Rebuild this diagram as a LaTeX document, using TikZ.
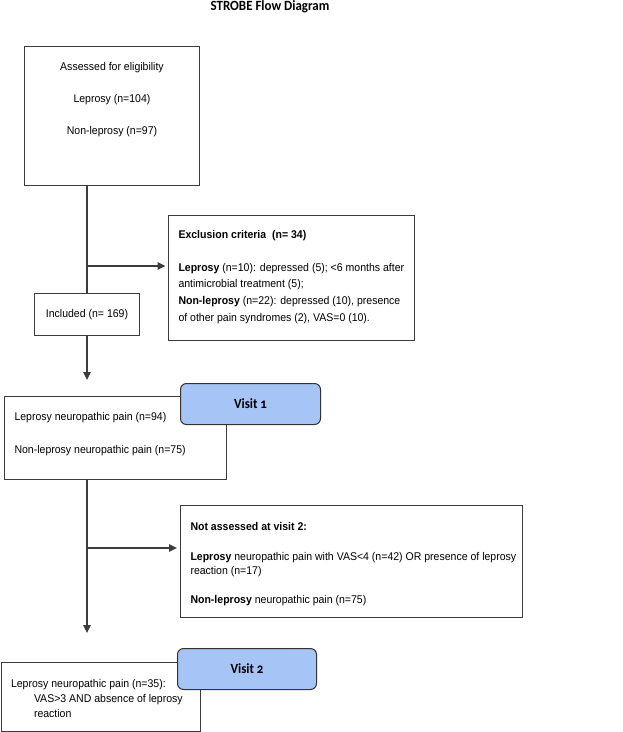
\documentclass[tikz,border=0pt]{standalone}
\usepackage{fontspec}
\setmainfont[FakeStretch=0.94]{Liberation Sans}
\newfontfamily\titlefont[FakeStretch=0.92]{Carlito}
\newfontfamily\tagfont[FakeStretch=0.92,Numbers=OldStyle]{Carlito}
\usetikzlibrary{arrows.meta}
\definecolor{tagblue}{RGB}{166,196,245}
\definecolor{linegray}{RGB}{60,60,60}
\tikzset{
  box/.style = {draw=linegray, line width=1pt, inner xsep=10pt,
                inner ysep=0pt, anchor=north west},
  tag/.style = {draw=black!80, line width=1pt, fill=tagblue,
                rounded corners=6pt, minimum width=#1, minimum height=41pt,
                anchor=north west,
                font=\tagfont\bfseries\fontsize{14}{16}\selectfont},
  tag/.default = 140pt,
  flow/.style = {color=linegray, line width=1.3pt},
  arr/.style = {flow, -{Triangle[length=8pt,width=7.5pt]}}
}
% width, height, top gap, line skip, text
\newcommand{\boxbody}[5]{%
  \begin{minipage}[c][#2][t]{#1}\fontsize{11.2}{#4}\selectfont
  \vspace*{#3}#5\end{minipage}}

\begin{document}
\begin{tikzpicture}[x=1pt, y=-1pt]
	\useasboundingbox (0,0) rectangle (623,732);

	% Title
	\node[font=\titlefont\bfseries\fontsize{14.1}{16}\selectfont, inner sep=0pt]
		(title) at (270,6.5) {STROBE Flow Diagram};

	% Boxes
	\node[box] (assess) at (24,46) {\boxbody{155pt}{139pt}{15.8pt}{16pt}{\centering
		Assessed for eligibility\\[16pt]
		Leprosy (n=104)\\[16pt]
		Non-leprosy (n=97)}};

	\node[box, inner xsep=0pt, minimum width=105pt, minimum height=42pt]
		(incl) at (34,293) {\fontsize{11.2}{13}\selectfont Included (n= 169)};

	\node[box] (excl) at (168,215) {\boxbody{226pt}{125pt}{15.1pt}{16.7pt}{\raggedright
		\textbf{Exclusion criteria\ \ (n= 34)}\\[15.7pt]
		\textbf{Leprosy} (n=10): depressed (5); <6 months after\\
		antimicrobial treatment (5);\\
		\textbf{Non-leprosy} (n=22): depressed (10), presence\\
		of other pain syndromes (2), VAS=0 (10).}};

	\node[box] (visitA) at (4,396) {\boxbody{202pt}{83pt}{15.5pt}{16pt}{\raggedright
		Leprosy neuropathic pain (n=94)\\[17.3pt]
		Non-leprosy neuropathic pain (n=75)}};
	\node[tag] (tagA) at (180,383) {Visit 1};

	\node[box] (notass) at (180,505) {\boxbody{322pt}{112pt}{16.5pt}{14.5pt}{\raggedright
		\textbf{Not assessed at visit 2:}\\[15.5pt]
		\mbox{\textbf{Leprosy} neuropathic pain with VAS<4 (n=42) OR presence of leprosy}\\
		reaction (n=17)\\[14.5pt]
		\textbf{Non-leprosy} neuropathic pain (n=75)}};

	\node[box] (visitB) at (0.5,662) {\boxbody{179pt}{69pt}{16.5pt}{15.3pt}{\raggedright
		Leprosy neuropathic pain (n=35):\\
		\hspace*{23pt}VAS>3 AND absence of leprosy\\
		\hspace*{23pt}reaction}};
	\node[tag=139pt] (tagB) at (177,648) {Visit 2};

	% Connectors
	\coordinate (b1) at (86.5,266);
	\coordinate (b2) at (86.5,548);
	\draw[flow] (incl.north |- assess.south) -- (incl.north);
	\draw[arr, shorten >=2.5pt] (b1) -- (b1 -| excl.west);
	\draw[arr, shorten >=16pt] (incl.south) -- (incl.south |- visitA.north);
	\draw[arr, shorten >=29pt] (incl.south |- visitA.south) -- (incl.south |- visitB.north);
	\draw[arr, shorten >=3pt] (b2) -- (b2 -| notass.west);

\end{tikzpicture}
\end{document}
